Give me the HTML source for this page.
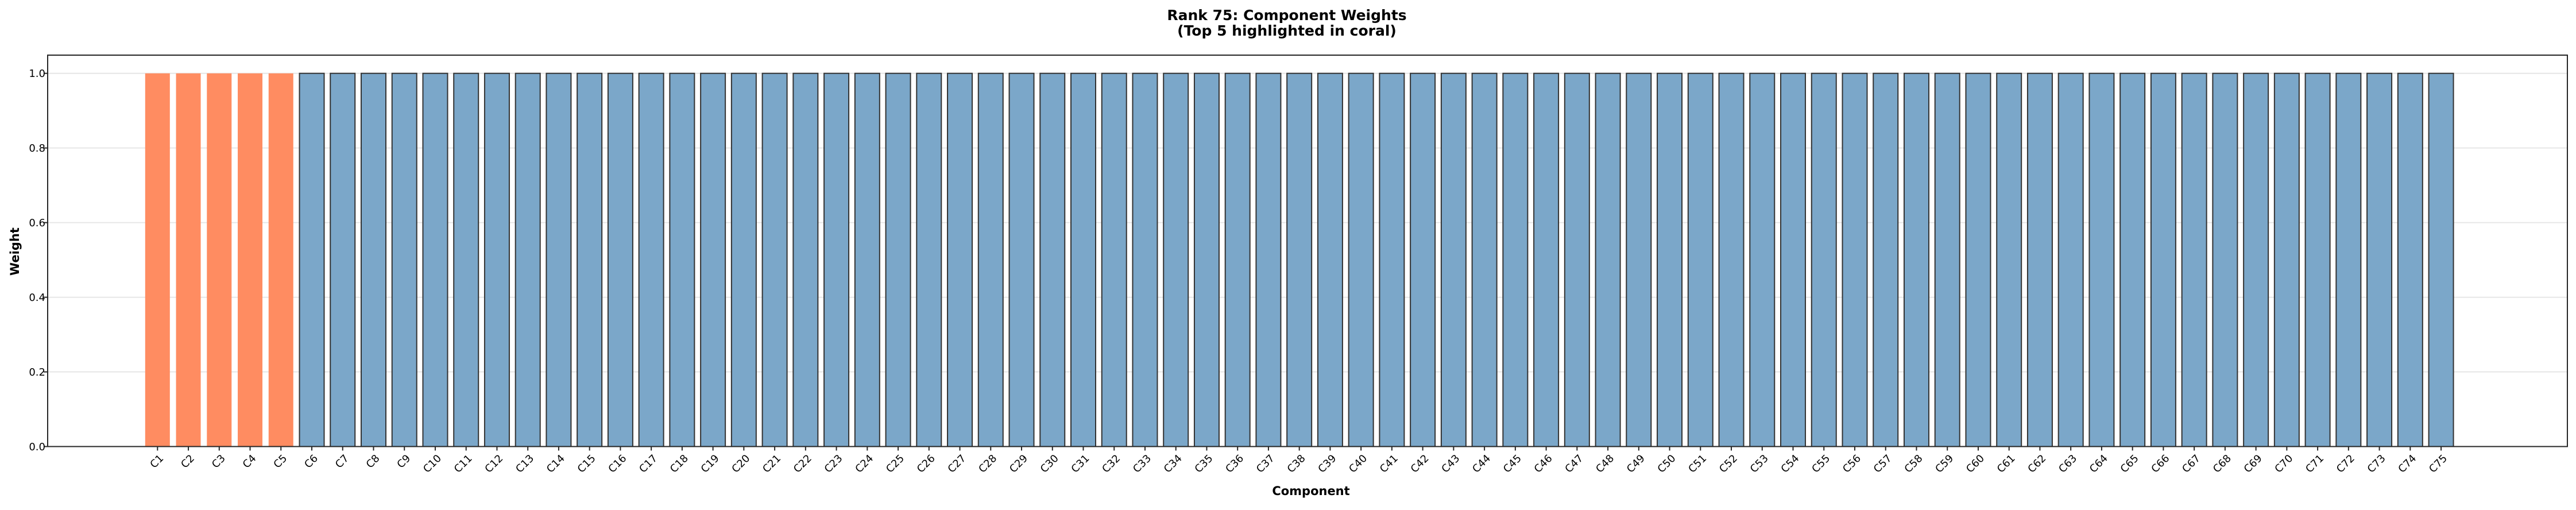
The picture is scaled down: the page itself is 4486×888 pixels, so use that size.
<!DOCTYPE html>
<html><head><meta charset="utf-8"><style>html,body{margin:0;padding:0;background:#fff}</style></head>
<body>
<svg id="s" width="4486" height="883" xmlns="http://www.w3.org/2000/svg" font-family="DejaVu Sans, Liberation Sans, sans-serif">
<rect width="4486" height="883" fill="#fff"/>
<g id="grid" stroke="#e6e6e6" stroke-width="2"></g>
<g id="bars"></g>
<rect x="83" y="96" width="4388" height="681.5" fill="none" stroke="#262626" stroke-width="2"/>
<g id="ticks" stroke="#262626" stroke-width="2"></g>
<g id="labels" font-size="18" fill="#000"></g>
<text x="2241" y="35" text-anchor="middle" font-size="25" font-weight="bold">Rank 75: Component Weights</text>
<text x="2241" y="62" text-anchor="middle" font-size="25" font-weight="bold">(Top 5 highlighted in coral)</text>
<text x="2283" y="862" text-anchor="middle" font-size="21" font-weight="bold">Component</text>
<text transform="translate(33,438) rotate(-90)" text-anchor="middle" font-size="21" font-weight="bold">Weight</text>
</svg>
<script>
const ns="http://www.w3.org/2000/svg";
function el(p,t,a,txt){const e=document.createElementNS(ns,t);for(const k in a)e.setAttribute(k,a[k]);if(txt!==undefined)e.textContent=txt;document.getElementById(p).appendChild(e);}
const y0=777.5,y1=127.7,h=y0-y1;
for(let i=0;i<=5;i++){const v=i*0.2,y=y0-v*h;
 if(i>0)el("grid","line",{x1:84,x2:4470,y1:y,y2:y});
 el("ticks","line",{x1:76,x2:83,y1:y,y2:y});
 el("labels","text",{x:79,y:y+6.5,"text-anchor":"end"},v.toFixed(1));}
const x1=274.3,dx=53.74,bw=43;
for(let i=0;i<75;i++){const cx=x1+i*dx;
 if(i<5)el("bars","rect",{x:cx-bw/2,y:y1,width:bw,height:h,fill:"#ff8c61"});
 else el("bars","rect",{x:cx-bw/2,y:y1,width:bw,height:h,fill:"#7ba7c9",stroke:"#333","stroke-width":2});
 el("ticks","line",{x1:cx,x2:cx,y1:y0,y2:y0+7});
 el("labels","text",{transform:"translate("+(cx+7)+","+(y0+17)+") rotate(-45)","text-anchor":"end",dy:"0.35em"},"C"+(i+1));}
</script>
</body></html>
